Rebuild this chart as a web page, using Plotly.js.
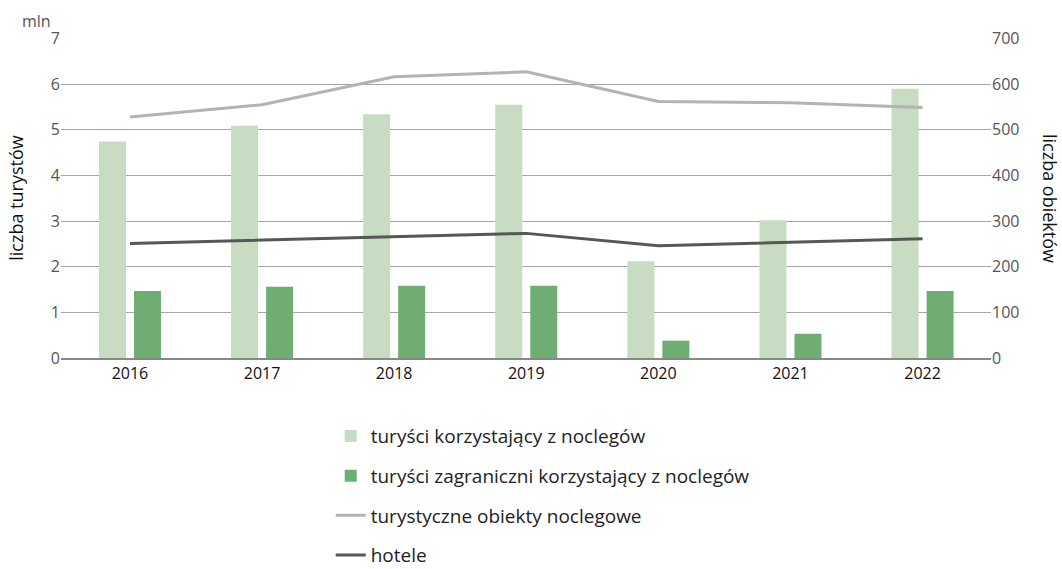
<!DOCTYPE html>
<html>
<head>
<meta charset="utf-8">
<script src="https://cdn.plot.ly/plotly-3.0.1.min.js"></script>
<style>html,body{margin:0;padding:0;background:#fff;}#chart{width:1062px;height:569px;}</style>
</head>
<body>
<div id="chart"></div>
<script>
var years = ['2016','2017','2018','2019','2020','2021','2022'];
var turysci = [4.74, 5.09, 5.34, 5.55, 2.12, 3.02, 5.90];
var turysciZagr = [1.47, 1.56, 1.58, 1.58, 0.38, 0.53, 1.47];
var obiekty = [528, 555, 616, 627, 562, 559, 549];
var hotele = [251, 258, 266, 273, 246, 254, 261];

var names = ['turyści korzystający z noclegów','turyści zagraniczni korzystający z noclegów','turystyczne obiekty noclegowe','hotele'];
var leftTicks = [0,1,2,3,4,5,6,7];
var rightTicks = [0,100,200,300,400,500,600,700];

var fontFam = '"Open Sans", "Noto Sans", sans-serif';

var traces = [
  {type:'bar', x:years, y:turysci, name:names[0], marker:{color:'#c8dbc3'}, legendgroup:'a', yaxis:'y'},
  {type:'bar', x:years, y:turysciZagr, name:names[1], marker:{color:'#70ad73'}, legendgroup:'b', yaxis:'y'},
  {type:'scatter', mode:'lines', x:years, y:obiekty, name:names[2], line:{color:'#b3b3b3', width:3}, legendgroup:'c', yaxis:'y2'},
  {type:'scatter', mode:'lines', x:years, y:hotele, name:names[3], line:{color:'#575757', width:3}, legendgroup:'d', yaxis:'y2'}
];

var layout = {
  width:1062, height:569,
  margin:{l:61, r:71, t:38, b:211, autoexpand:false},
  paper_bgcolor:'#fff', plot_bgcolor:'#fff',
  font:{family:fontFam, color:'#000'},
  barmode:'group', bargap:0.47, bargroupgap:0.229,
  showlegend:true,
  legend:{x:0.29, xanchor:'left', yref:'container', y:0.267, yanchor:'top', orientation:'v', traceorder:'grouped', tracegroupgap:12, font:{size:19, color:'#222', family:fontFam}},
  xaxis:{type:'category', range:[-0.522, 6.518], tickfont:{size:16, color:'#111'}, showgrid:false, showline:true, linecolor:'#888', linewidth:1.5, ticks:'', fixedrange:true},
  yaxis:{range:[0,7.01], tickvals:leftTicks, tickfont:{size:16, color:'#555'}, showgrid:true, gridcolor:'#a6a6a6', gridwidth:1, zeroline:false, showline:false, ticks:'', ticklen:0,
         title:{text:'liczba turystów', font:{size:18, color:'#111'}, standoff:22}},
  yaxis2:{range:[0,701], tickvals:rightTicks, overlaying:'y', side:'right', tickfont:{size:16, color:'#555'}, showgrid:false, zeroline:false, showline:false, ticks:''},
  annotations:[
    {text:'mln', xref:'paper', yref:'paper', x:-0.009, y:1.0, xanchor:'right', yanchor:'bottom', yshift:4, showarrow:false, font:{size:16, color:'#555'}},
    {text:'liczba obiektów', xref:'paper', yref:'paper', x:1.0, xshift:73, y:0.5, textangle:90, showarrow:false, font:{size:18, color:'#111'}}
  ]
};

Plotly.newPlot('chart', traces, layout, {displayModeBar:false, staticPlot:true});
</script>
</body>
</html>
